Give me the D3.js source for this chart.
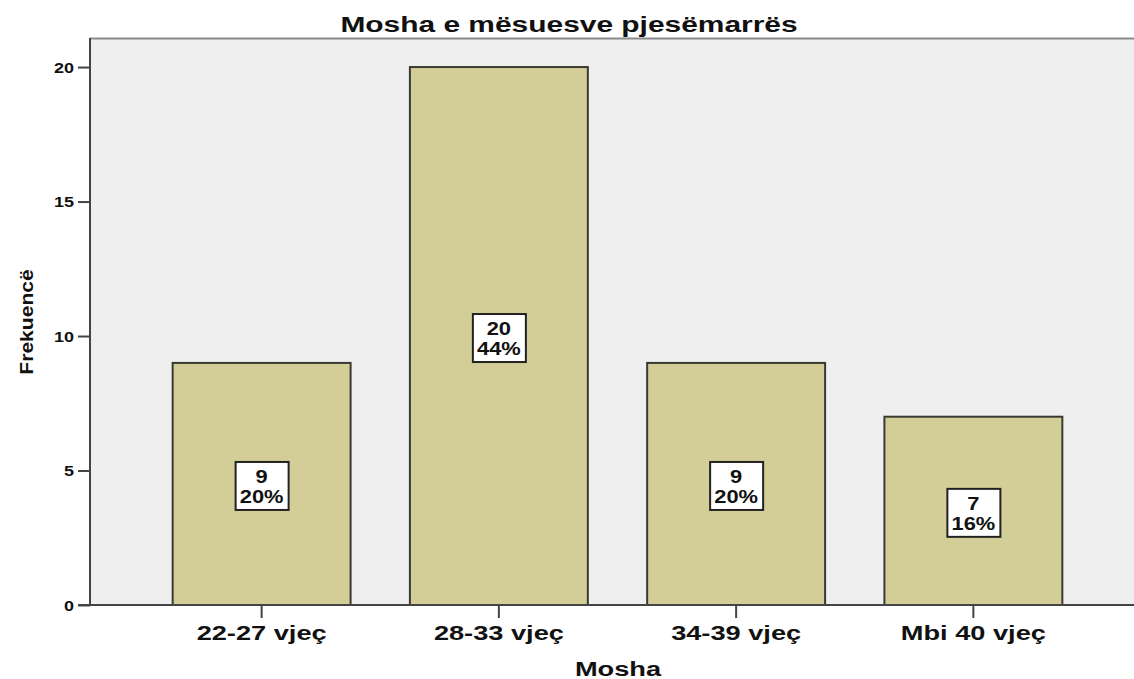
<!DOCTYPE html>
<html>
<head>
<meta charset="utf-8">
<script src="https://cdn.jsdelivr.net/npm/d3@7"></script>
<style>
  body { margin: 0; background: #fff; }
  svg { display: block; font-family: "Liberation Sans", Arial, sans-serif; }
</style>
</head>
<body>
<svg id="chart" width="1134" height="679"></svg>
<script>
// data
const categories = ["22-27 vjeç", "28-33 vjeç", "34-39 vjeç", "Mbi 40 vjeç"];
const counts = [9, 20, 9, 7];
const percents = ["20%", "44%", "20%", "16%"];
const yTicks = [0, 5, 10, 15, 20];

const svg = d3.select("#chart");
const plotLeft = 90, plotRight = 1134, plotTop = 38, plotBottom = 605;
const stretch = 1.36; // the source image is stretched sideways

const x = d3.scaleBand()
    .domain(categories)
    .range([143, 1092])
    .paddingInner(0.25)
    .paddingOuter(0.125);

const y = d3.scaleLinear()
    .domain([0, 21.08])
    .range([plotBottom, plotTop]);

// plot background
svg.append("rect")
    .attr("x", plotLeft).attr("y", plotTop)
    .attr("width", plotRight - plotLeft).attr("height", plotBottom - plotTop)
    .attr("fill", "#efefef");
svg.append("line")
    .attr("x1", plotLeft).attr("x2", plotRight)
    .attr("y1", plotTop + 0.5).attr("y2", plotTop + 0.5)
    .attr("stroke", "#8a8a8a").attr("stroke-width", 2);

// bars
svg.selectAll(".bar")
    .data(counts)
    .join("rect")
    .attr("class", "bar")
    .attr("x", (d, i) => x(categories[i]))
    .attr("y", d => y(d))
    .attr("width", x.bandwidth())
    .attr("height", d => plotBottom - y(d))
    .attr("fill", "#d3cd98")
    .attr("stroke", "#3a3a33")
    .attr("stroke-width", 2);

// y axis
const yAxis = svg.append("g")
    .attr("transform", `translate(${plotLeft},0)`)
    .call(d3.axisLeft(y).tickValues(yTicks).tickSize(12));
yAxis.select(".domain").attr("stroke", "#444").attr("stroke-width", 2)
    .attr("d", `M0,${plotTop}V${plotBottom}`);
yAxis.selectAll(".tick line").attr("stroke", "#444").attr("stroke-width", 2);
yAxis.selectAll(".tick text")
    .attr("x", -16 / 1.2)
    .attr("dy", "0.36em")
    .attr("transform", "scale(1.2,1)")
    .attr("font-size", 15).attr("font-weight", "bold").attr("fill", "#111");

// x axis
const xAxis = svg.append("g")
    .attr("transform", `translate(0,${plotBottom})`)
    .call(d3.axisBottom(x).tickSize(13));
xAxis.select(".domain").attr("stroke", "#444").attr("stroke-width", 2)
    .attr("d", `M${plotLeft - 12},0H${plotRight}`);
xAxis.selectAll(".tick line").attr("stroke", "#444").attr("stroke-width", 2);
xAxis.selectAll(".tick text")
    .attr("y", 35).attr("dy", 0)
    .attr("transform", `scale(${stretch},1)`)
    .attr("font-size", 20).attr("font-weight", "bold").attr("fill", "#111");

// value labels
const labels = svg.selectAll(".lbl")
    .data(counts)
    .join("g")
    .attr("class", "lbl")
    .attr("transform", (d, i) => `translate(${x(categories[i]) + x.bandwidth() / 2},${y(d / 2) + 2})`);
labels.append("rect")
    .attr("x", -26).attr("y", -24)
    .attr("width", 53).attr("height", 48)
    .attr("fill", "#fff").attr("stroke", "#222").attr("stroke-width", 2);
labels.append("text")
    .attr("text-anchor", "middle").attr("y", -3)
    .attr("transform", "scale(1.15,1)")
    .attr("font-size", 19).attr("font-weight", "bold").attr("fill", "#111")
    .text(d => d);
labels.append("text")
    .attr("text-anchor", "middle").attr("y", 17)
    .attr("transform", "scale(1.15,1)")
    .attr("font-size", 19).attr("font-weight", "bold").attr("fill", "#111")
    .text((d, i) => percents[i]);

// titles
svg.append("text")
    .attr("transform", `translate(569,32) scale(${stretch},1)`)
    .attr("text-anchor", "middle")
    .attr("font-size", 22).attr("font-weight", "bold").attr("fill", "#111")
    .text("Mosha e mësuesve pjesëmarrës");

svg.append("text")
    .attr("transform", `translate(618,676) scale(${stretch},1)`)
    .attr("text-anchor", "middle")
    .attr("font-size", 20).attr("font-weight", "bold").attr("fill", "#111")
    .text("Mosha");

svg.append("text")
    .attr("transform", "translate(33,322) scale(1,1.17) rotate(-90)")
    .attr("text-anchor", "middle")
    .attr("font-size", 18).attr("font-weight", "bold").attr("fill", "#111")
    .text("Frekuencë");
</script>
</body>
</html>
